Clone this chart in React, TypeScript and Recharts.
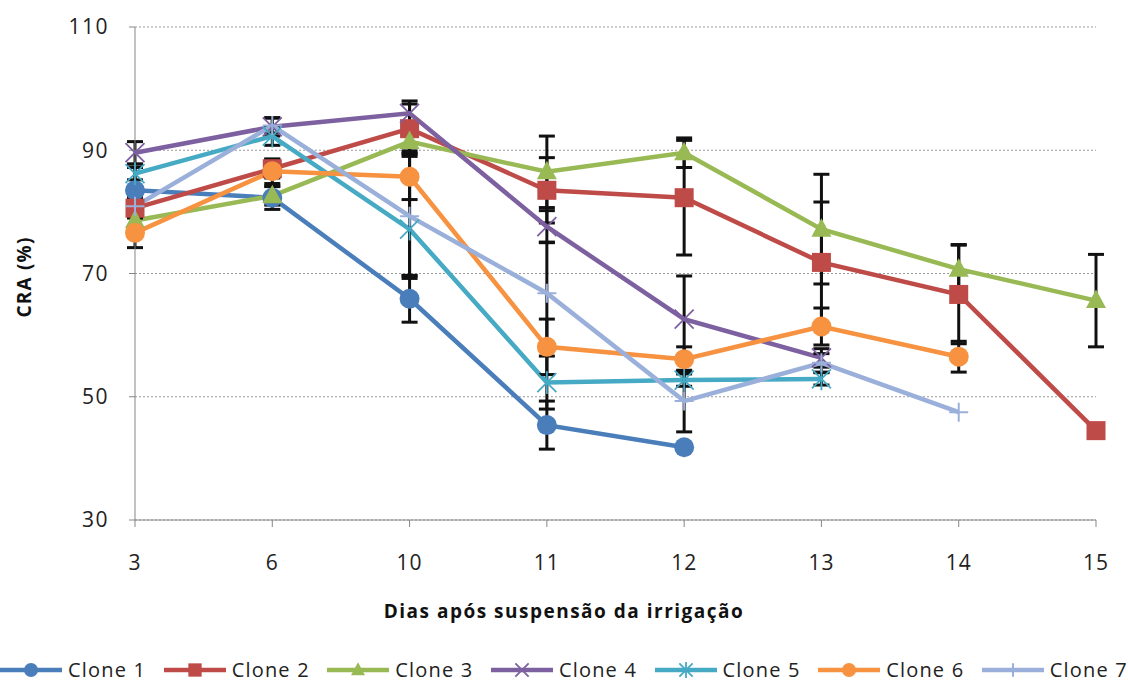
import { LineChart, Line, XAxis, YAxis, CartesianGrid, ErrorBar, Legend, Label } from "recharts";

// days after irrigation was suspended
const days = ["3", "6", "10", "11", "12", "13", "14", "15"];
const yTicks = [30, 50, 70, 90, 110];

// relative water content (%) per clone
const clone1 = [83.5, 82.3, 65.9, 45.4, 41.8, null, null, null];
const clone2 = [80.6, 87.0, 93.5, 83.5, 82.3, 71.8, 66.6, 44.5];
const clone3 = [78.6, 82.6, 91.4, 86.5, 89.6, 77.2, 70.7, 65.6];
const clone4 = [89.6, 93.8, 96.0, 77.6, 62.6, 56.3, null, null];
const clone5 = [86.2, 92.3, 77.2, 52.3, 52.7, 52.9, null, null];
const clone6 = [76.6, 86.6, 85.7, 58.1, 56.1, 61.4, 56.5, null];
const clone7 = [80.9, 94.0, 79.3, 66.8, 49.3, 55.5, 47.5, null];

// standard deviation bars
const err1 = [3.8, 1.9, 3.8, 3.9, null, null, null, null];
const err2 = [1.5, 1.5, 4.0, 5.3, 9.3, 9.8, 8.0, null];
const err3 = [1.5, 1.5, 1.5, 5.8, 2.4, 8.9, 4.0, 7.5];
const err4 = [1.8, 1.5, 2.0, 2.6, 7.0, 1.5, null, null];
const err5 = [1.0, 1.5, 8.0, 4.3, 1.0, 1.0, null, null];
const err6 = [2.4, 2.0, 3.7, 4.5, 2.0, 3.0, 2.5, null];
const err7 = [1.5, 1.2, 9.7, 8.3, 5.0, 1.5, null, null];

const FONT = "'Open Sans', sans-serif";

const series = [
  { name: "Clone 1", values: clone1, errors: err1, color: "#4A7EBB", shape: "circle" },
  { name: "Clone 2", values: clone2, errors: err2, color: "#BE4B48", shape: "square" },
  { name: "Clone 3", values: clone3, errors: err3, color: "#98B954", shape: "triangle" },
  { name: "Clone 4", values: clone4, errors: err4, color: "#7D60A0", shape: "x" },
  { name: "Clone 5", values: clone5, errors: err5, color: "#46AAC5", shape: "star" },
  { name: "Clone 6", values: clone6, errors: err6, color: "#F69240", shape: "circle" },
  { name: "Clone 7", values: clone7, errors: err7, color: "#9AB0DA", shape: "plus" },
];

const rows = days.map((day, i) => {
  const row: Record<string, string | number | null> = { day };
  series.forEach((s, k) => {
    row[`c${k}`] = s.values[i];
    row[`e${k}`] = s.errors[i];
  });
  return row;
});

function Marker({ shape, color, cx, cy, s = 1 }: { shape: string; color: string; cx: number; cy: number; s?: number }) {
  const h = 9.5 * s;
  switch (shape) {
    case "circle":
      return <circle cx={cx} cy={cy} r={10 * s} fill={color} />;
    case "square":
      return <rect x={cx - h} y={cy - h} width={2 * h} height={2 * h} fill={color} />;
    case "triangle":
      return <polygon points={`${cx},${cy - 11 * s} ${cx - 10 * s},${cy + 7.5 * s} ${cx + 10 * s},${cy + 7.5 * s}`} fill={color} />;
    case "x":
      return <path d={`M${cx - h} ${cy - h}L${cx + h} ${cy + h}M${cx - h} ${cy + h}L${cx + h} ${cy - h}`} stroke={color} strokeWidth={1.8} />;
    case "star":
      return (
        <path
          d={`M${cx - h} ${cy - h}L${cx + h} ${cy + h}M${cx - h} ${cy + h}L${cx + h} ${cy - h}M${cx} ${cy - h * 1.2}L${cx} ${cy + h * 1.2}`}
          stroke={color}
          strokeWidth={1.8}
        />
      );
    default:
      return <path d={`M${cx - h} ${cy}L${cx + h} ${cy}M${cx} ${cy - h}L${cx} ${cy + h}`} stroke={color} strokeWidth={2} />;
  }
}

const dotFor = (shape: string, color: string) => (p: any) => {
  if (p.cy == null || p.value == null) return <g key={p.index} />;
  return (
    <g key={p.index}>
      <Marker shape={shape} color={color} cx={p.cx} cy={p.cy} />
    </g>
  );
};

function LegendRow() {
  return (
    <div
      style={{
        display: "flex",
        justifyContent: "space-between",
        alignItems: "flex-end",
        width: 1128,
        height: 43,
        fontFamily: FONT,
        fontSize: 20,
        letterSpacing: 1.2,
        color: "#222",
      }}
    >
      {series.map((s) => (
        <div key={s.name} style={{ display: "flex", alignItems: "center", gap: 6, lineHeight: "26px" }}>
          <svg width={62} height={20}>
            <line x1={0} x2={62} y1={10} y2={10} stroke={s.color} strokeWidth={4.5} />
            <Marker shape={s.shape} color={s.color} cx={31} cy={10} s={0.7} />
          </svg>
          <span>{s.name}</span>
        </div>
      ))}
    </div>
  );
}

export default function App() {
  return (
    <div style={{ width: 1128, height: 683, background: "#fff" }}>
      <style>{"body{margin:0}"}</style>
      <LineChart width={1128} height={683} data={rows} margin={{ top: 27, right: 32, bottom: 0, left: 0 }}>
        <CartesianGrid vertical={false} stroke="#9a9a9a" strokeDasharray="2 2" />
        <XAxis
          dataKey="day"
          height={120}
          stroke="#868686"
          tickSize={7}
          tickMargin={28}
          tick={{ fill: "#222", fontSize: 21, fontFamily: FONT, letterSpacing: 1 }}
        >
          <Label
            content={(p: any) => (
              <text
                x={564}
                y={p.viewBox.y + 98}
                textAnchor="middle"
                fontFamily={FONT}
                fontSize={19}
                fontWeight={700}
                letterSpacing={1.5}
                fill="#111"
              >
                Dias após suspensão da irrigação
              </text>
            )}
          />
        </XAxis>
        <YAxis
          width={135}
          domain={[30, 110]}
          ticks={yTicks}
          stroke="#868686"
          tickSize={6}
          tickMargin={20}
          tick={{ fill: "#222", fontSize: 21, fontFamily: FONT, letterSpacing: 1.5 }}
        >
          <Label
            content={() => (
              <text
                x={31}
                y={277}
                transform="rotate(-90 31 277)"
                textAnchor="middle"
                fontFamily={FONT}
                fontSize={19}
                fontWeight={700}
                letterSpacing={1.2}
                fill="#111"
              >
                CRA (%)
              </text>
            )}
          />
        </YAxis>
        <Legend verticalAlign="bottom" height={43} wrapperStyle={{ left: 0, width: 1128 }} content={() => <LegendRow />} />
        {series.map((s, k) => (
          <Line
            key={s.name}
            dataKey={`c${k}`}
            name={s.name}
            stroke={s.color}
            strokeWidth={4.5}
            dot={dotFor(s.shape, s.color)}
            activeDot={false}
            isAnimationActive={false}
          >
            <ErrorBar dataKey={`e${k}`} width={8} strokeWidth={3} stroke="#111" direction="y" />
          </Line>
        ))}
      </LineChart>
    </div>
  );
}
